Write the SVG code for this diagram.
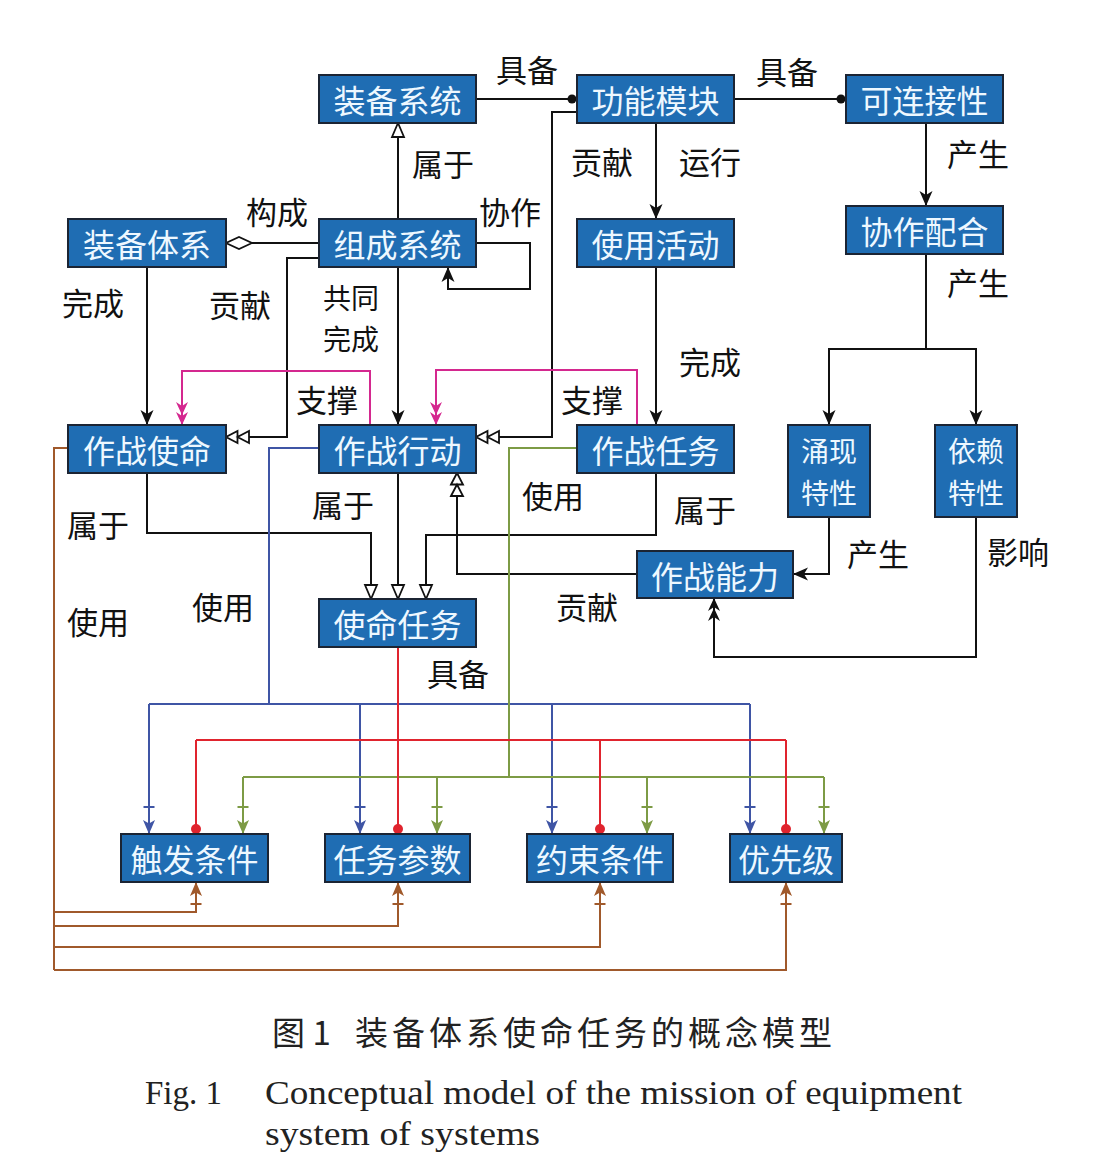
<svg xmlns="http://www.w3.org/2000/svg" width="1118" height="1169" viewBox="0 0 1118 1169">
<style>
.box{fill:#1F6DB3;stroke:#1B2433;stroke-width:2}
.bt{font-family:"Noto Sans CJK SC",sans-serif;font-size:32px;fill:#EEF8FF;text-anchor:middle;dominant-baseline:central}
.bt2{font-family:"Noto Sans CJK SC",sans-serif;font-size:28px;fill:#EEF8FF;text-anchor:middle;dominant-baseline:central}
.lb{font-family:"Noto Sans CJK SC",sans-serif;font-size:31px;fill:#111;text-anchor:middle;dominant-baseline:central}
.lb2{font-family:"Noto Sans CJK SC",sans-serif;font-size:28px;fill:#111;text-anchor:middle;dominant-baseline:central}
.k{fill:none;stroke:#111;stroke-width:2}
.m{fill:none;stroke:#D4288F;stroke-width:2}
.b{fill:none;stroke:#3F55A5;stroke-width:2}
.r{fill:none;stroke:#E0242E;stroke-width:2}
.o{fill:none;stroke:#7D9B45;stroke-width:2}
.w{fill:none;stroke:#A0592B;stroke-width:2}
.cap{font-family:"Noto Sans CJK SC",sans-serif;font-size:33px;fill:#222}
.en{font-family:"Liberation Serif",serif;font-size:33px;fill:#222}
</style>
<defs>
<marker id="ak" markerUnits="userSpaceOnUse" markerWidth="14" markerHeight="12" refX="15" refY="6.5" orient="auto" overflow="visible"><path d="M0,0 L15,6.5 L0,13 L4,6.5 Z" fill="#111"/></marker>
<marker id="akk" markerUnits="userSpaceOnUse" markerWidth="14" markerHeight="12" refX="13" refY="6" orient="auto" overflow="visible"><path d="M0,0 L13,6 L0,12 L4,6 Z M-10,0 L3,6 L-10,12 L-6,6 Z" fill="#111"/></marker>
<marker id="amm" markerUnits="userSpaceOnUse" markerWidth="14" markerHeight="12" refX="13" refY="6" orient="auto" overflow="visible"><path d="M0,0 L13,6 L0,12 L4,6 Z M-10,0 L3,6 L-10,12 L-6,6 Z" fill="#D4288F"/></marker>
<marker id="ht" markerUnits="userSpaceOnUse" markerWidth="14" markerHeight="12" refX="14" refY="6" orient="auto" overflow="visible"><path d="M0,0 L14,6 L0,12 Z" fill="#fff" stroke="#111" stroke-width="1.8"/></marker>
<marker id="hh" markerUnits="userSpaceOnUse" markerWidth="24" markerHeight="12" refX="23" refY="6" orient="auto" overflow="visible"><path d="M0,0 L11.5,6 L0,12 Z M11.5,0 L23,6 L11.5,12 Z" fill="#fff" stroke="#111" stroke-width="1.8"/></marker>
<marker id="dk" markerUnits="userSpaceOnUse" markerWidth="10" markerHeight="10" refX="5" refY="5" orient="auto" overflow="visible"><circle cx="5" cy="5" r="4.5" fill="#111"/></marker>
<marker id="dr" markerUnits="userSpaceOnUse" markerWidth="10" markerHeight="10" refX="5" refY="5" orient="auto" overflow="visible"><circle cx="5" cy="5" r="5" fill="#E0242E"/></marker>
<marker id="dm" markerUnits="userSpaceOnUse" markerWidth="26" markerHeight="12" refX="26" refY="6" orient="auto" overflow="visible"><path d="M0,6 L13,0 L26,6 L13,12 Z" fill="#fff" stroke="#111" stroke-width="1.8"/></marker>
<marker id="ab" markerUnits="userSpaceOnUse" markerWidth="30" markerHeight="12" refX="30" refY="6" orient="auto" overflow="visible"><path d="M16,0 L30,6 L16,12 L19.5,6 Z" fill="#3F55A5"/><path d="M3,0.5 V11.5" stroke="#3F55A5" stroke-width="2"/></marker>
<marker id="ao" markerUnits="userSpaceOnUse" markerWidth="30" markerHeight="12" refX="30" refY="6" orient="auto" overflow="visible"><path d="M16,0 L30,6 L16,12 L19.5,6 Z" fill="#7D9B45"/><path d="M3,0.5 V11.5" stroke="#7D9B45" stroke-width="2"/></marker>
<marker id="aw" markerUnits="userSpaceOnUse" markerWidth="30" markerHeight="12" refX="30" refY="6" orient="auto" overflow="visible"><path d="M16,0 L30,6 L16,12 L19.5,6 Z" fill="#A0592B"/><path d="M8,0.5 V11.5" stroke="#A0592B" stroke-width="2"/></marker>
</defs>
<rect width="1118" height="1169" fill="#fff"/>
<g id="connectors">
<path class="k" d="M476,99 H572" marker-end="url(#dk)"/>
<path class="k" d="M734,99 H841" marker-end="url(#dk)"/>
<path class="k" d="M398,219 V123" marker-end="url(#ht)"/>
<path class="k" d="M319,243 H226" marker-end="url(#dm)"/>
<path class="k" d="M476,243 H530 V289 H448 V267" marker-end="url(#ak)"/>
<path class="k" d="M319,258 H287 V437 H226" marker-end="url(#hh)"/>
<path class="k" d="M577,112 H552 V437 H476" marker-end="url(#hh)"/>
<path class="k" d="M147,267 V425" marker-end="url(#ak)"/>
<path class="k" d="M398,267 V425" marker-end="url(#ak)"/>
<path class="k" d="M656,123 V219" marker-end="url(#ak)"/>
<path class="k" d="M656,267 V425" marker-end="url(#ak)"/>
<path class="k" d="M926,123 V206" marker-end="url(#ak)"/>
<path class="k" d="M926,254 V349 H829 V425" marker-end="url(#ak)"/>
<path class="k" d="M926,349 H976 V425" marker-end="url(#ak)"/>
<path class="m" d="M370,425 V371 H182 V425" marker-end="url(#amm)"/>
<path class="m" d="M637,425 V370 H436 V425" marker-end="url(#amm)"/>
<path class="k" d="M147,473 V533 H371 V599" marker-end="url(#ht)"/>
<path class="k" d="M398,473 V599" marker-end="url(#ht)"/>
<path class="k" d="M656,473 V535 H426 V599" marker-end="url(#ht)"/>
<path class="k" d="M637,574 H457 V473" marker-end="url(#hh)"/>
<path class="k" d="M829,517 V574 H793" marker-end="url(#ak)"/>
<path class="k" d="M976,517 V657 H714 V598" marker-end="url(#akk)"/>
<path class="b" d="M319,448 H269 V704"/>
<path class="b" d="M149,704 H750"/>
<path class="b" d="M149,704 V834" marker-end="url(#ab)"/>
<path class="b" d="M360,704 V834" marker-end="url(#ab)"/>
<path class="b" d="M552,704 V834" marker-end="url(#ab)"/>
<path class="b" d="M750,704 V834" marker-end="url(#ab)"/>
<path class="o" d="M577,448 H509 V777"/>
<path class="o" d="M243,777 H824"/>
<path class="o" d="M243,777 V834" marker-end="url(#ao)"/>
<path class="o" d="M437,777 V834" marker-end="url(#ao)"/>
<path class="o" d="M647,777 V834" marker-end="url(#ao)"/>
<path class="o" d="M824,777 V834" marker-end="url(#ao)"/>
<path class="r" d="M398,647 V829" marker-end="url(#dr)"/>
<path class="r" d="M196,740 H786"/>
<path class="r" d="M196,740 V829" marker-end="url(#dr)"/>
<path class="r" d="M600,740 V829" marker-end="url(#dr)"/>
<path class="r" d="M786,740 V829" marker-end="url(#dr)"/>
<path class="w" d="M68,448 H54 V970"/>
<path class="w" d="M54,912 H196 V882" marker-end="url(#aw)"/>
<path class="w" d="M54,926 H398 V882" marker-end="url(#aw)"/>
<path class="w" d="M54,947 H600 V882" marker-end="url(#aw)"/>
<path class="w" d="M54,970 H786 V882" marker-end="url(#aw)"/>
</g>
<g id="labels">
<text class="lb" x="527" y="68">具备</text>
<text class="lb" x="787" y="70">具备</text>
<text class="lb" x="443" y="162">属于</text>
<text class="lb" x="277" y="210">构成</text>
<text class="lb" x="510" y="210">协作</text>
<text class="lb" x="602" y="160">贡献</text>
<text class="lb" x="710" y="160">运行</text>
<text class="lb" x="978" y="152">产生</text>
<text class="lb" x="978" y="281">产生</text>
<text class="lb" x="93" y="301">完成</text>
<text class="lb" x="240" y="303">贡献</text>
<text class="lb2" x="351" y="297">共同</text>
<text class="lb2" x="351" y="338">完成</text>
<text class="lb" x="710" y="360">完成</text>
<text class="lb" x="327" y="398">支撑</text>
<text class="lb" x="592" y="398">支撑</text>
<text class="lb" x="98" y="523">属于</text>
<text class="lb" x="343" y="503">属于</text>
<text class="lb" x="553" y="494">使用</text>
<text class="lb" x="705" y="508">属于</text>
<text class="lb" x="98" y="620">使用</text>
<text class="lb" x="223" y="605">使用</text>
<text class="lb" x="587" y="605">贡献</text>
<text class="lb" x="878" y="552">产生</text>
<text class="lb" x="1018" y="550">影响</text>
<text class="lb" x="458" y="672">具备</text>
</g>
<g id="n1"><rect class="box" x="319" y="75" width="157" height="48"/><text class="bt" x="397.5" y="99">装备系统</text></g>
<g id="n2"><rect class="box" x="577" y="75" width="157" height="48"/><text class="bt" x="655.5" y="99">功能模块</text></g>
<g id="n3"><rect class="box" x="846" y="75" width="157" height="48"/><text class="bt" x="924.5" y="99">可连接性</text></g>
<g id="n4"><rect class="box" x="68" y="219" width="158" height="48"/><text class="bt" x="147" y="243">装备体系</text></g>
<g id="n5"><rect class="box" x="319" y="219" width="157" height="48"/><text class="bt" x="397.5" y="243">组成系统</text></g>
<g id="n6"><rect class="box" x="577" y="219" width="157" height="48"/><text class="bt" x="655.5" y="243">使用活动</text></g>
<g id="n7"><rect class="box" x="846" y="206" width="157" height="48"/><text class="bt" x="924.5" y="230">协作配合</text></g>
<g id="n8"><rect class="box" x="68" y="425" width="158" height="48"/><text class="bt" x="147" y="449">作战使命</text></g>
<g id="n9"><rect class="box" x="319" y="425" width="157" height="48"/><text class="bt" x="397.5" y="449">作战行动</text></g>
<g id="n10"><rect class="box" x="577" y="425" width="157" height="48"/><text class="bt" x="655.5" y="449">作战任务</text></g>
<g id="n11"><rect class="box" x="788" y="425" width="82" height="92"/><text class="bt2" x="829" y="450">涌现</text><text class="bt2" x="829" y="492">特性</text></g>
<g id="n12"><rect class="box" x="935" y="425" width="82" height="92"/><text class="bt2" x="976" y="450">依赖</text><text class="bt2" x="976" y="492">特性</text></g>
<g id="n13"><rect class="box" x="637" y="551" width="156" height="47"/><text class="bt" x="715" y="574.5">作战能力</text></g>
<g id="n14"><rect class="box" x="319" y="599" width="157" height="48"/><text class="bt" x="397.5" y="623">使命任务</text></g>
<g id="n15"><rect class="box" x="121" y="834" width="147" height="48"/><text class="bt" x="194.5" y="858">触发条件</text></g>
<g id="n16"><rect class="box" x="325" y="834" width="145" height="48"/><text class="bt" x="397.5" y="858">任务参数</text></g>
<g id="n17"><rect class="box" x="527" y="834" width="146" height="48"/><text class="bt" x="600" y="858">约束条件</text></g>
<g id="n18"><rect class="box" x="730" y="834" width="112" height="48"/><text class="bt" x="786" y="858">优先级</text></g>
<g id="caption">
<text class="cap" x="272" y="1045">图 1</text>
<text class="cap" x="355" y="1045" textLength="477" lengthAdjust="spacing">装备体系使命任务的概念模型</text>
<text class="en" x="145" y="1104">Fig. 1</text>
<text class="en" x="265" y="1104" textLength="697" lengthAdjust="spacingAndGlyphs">Conceptual model of the mission of equipment</text>
<text class="en" x="265" y="1145" textLength="275" lengthAdjust="spacingAndGlyphs">system of systems</text>
</g>
</svg>
